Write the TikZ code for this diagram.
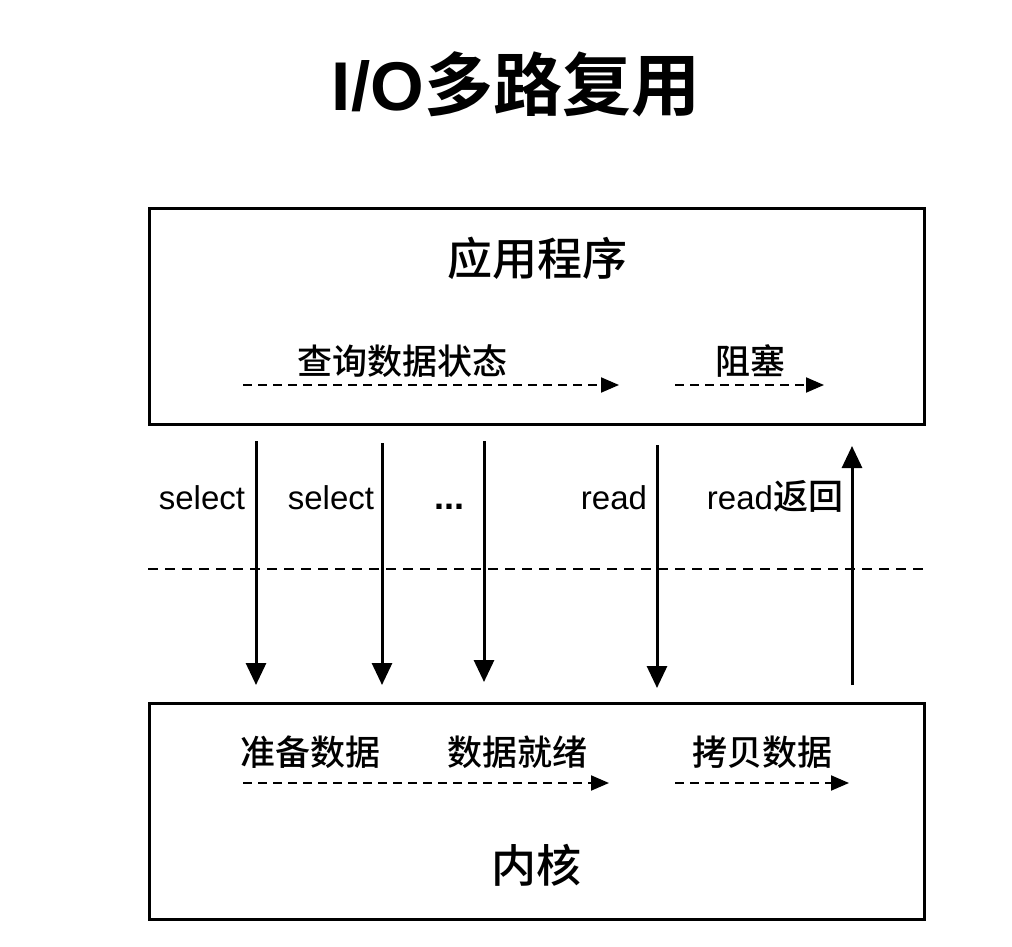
\documentclass[tikz,border=0pt]{standalone}
\usepackage{fontspec}
\setmainfont{Liberation Sans}
\newfontfamily\cjk{Noto Sans CJK SC Medium}
\newfontfamily\cjkb{Noto Sans CJK SC Bold}
\newfontfamily\lat{Liberation Sans}
\newfontfamily\latb{Liberation Sans Bold}
\usetikzlibrary{arrows.meta}
\begin{document}
\begin{tikzpicture}[x=1pt,y=-1pt,
  box/.style={draw,line width=3pt,minimum width=775pt,anchor=north west,inner sep=0pt},
  lab/.style={font=\cjk\fontsize{35}{40}\selectfont,inner sep=0pt},
  biglab/.style={font=\cjk\fontsize{45}{50}\selectfont,inner sep=0pt},
  latlab/.style={font=\lat\fontsize{33}{38}\selectfont,inner sep=0pt,anchor=base},
  flow/.style={line width=2pt,dash pattern=on 9pt off 6pt,-{Triangle[length=18pt,width=15pt]}},
  call/.style={line width=3pt,-{Triangle[length=22pt,width=20pt]}},
  divider/.style={line width=2pt,dash pattern=on 10pt off 7pt}]
\useasboundingbox (0,0) rectangle (1012,947);
\node[font=\cjkb\fontsize{69}{74}\selectfont,inner sep=0pt] (title) at (516,84) {{\latb I/O}多路复用};
\node[box,minimum height=216pt] (app) at (148,207) {};
\node[box,minimum height=216pt] (kern) at (148,702) {};
\node[biglab] (appt) at (537,258) {应用程序};
\node[biglab] (kernt) at (536,865) {内核};
\node[lab] (query) at (402,361) {查询数据状态};
\node[lab] (block) at (750,361) {阻塞};
\node[lab] (prep) at (310,752) {准备数据};
\node[lab] (ready) at (517,752) {数据就绪};
\node[lab] (copy) at (762,752) {拷贝数据};
\coordinate (q1) at (243,385); \coordinate (q2) at (619,385);
\coordinate (b1) at (675,385); \coordinate (b2) at (824,385);
\coordinate (p1) at (243,783); \coordinate (p2) at (609,783);
\coordinate (c1) at (675,783); \coordinate (c2) at (849,783);
\draw[flow] (q1) -- (q2);
\draw[flow] (b1) -- (b2);
\draw[flow] (p1) -- (p2);
\draw[flow] (c1) -- (c2);
\coordinate (d1) at (148,569); \coordinate (d2) at (923,569);
\draw[divider] (d1) -- (d2);
\coordinate (s1a) at (256,441); \coordinate (s1b) at (256,685);
\coordinate (s2a) at (382,443); \coordinate (s2b) at (382,685);
\coordinate (s3a) at (484,441); \coordinate (s3b) at (484,682);
\coordinate (r1a) at (657,445); \coordinate (r1b) at (657,688);
\coordinate (r2a) at (852,685); \coordinate (r2b) at (852,446);
\draw[call] (s1a) -- (s1b);
\draw[call] (s2a) -- (s2b);
\draw[call] (s3a) -- (s3b);
\draw[call] (r1a) -- (r1b);
\draw[call] (r2a) -- (r2b);
\node[latlab] (sel1) at (202,509) {select};
\node[latlab] (sel2) at (331,509) {select};
\node[latlab,font=\latb\fontsize{36}{40}\selectfont] (dots) at (449,509) {...};
\node[latlab] (rd) at (614,509) {read};
\node[latlab] (rdret) at (775,509) {read{\cjk\fontsize{35}{40}\selectfont 返回}};
\end{tikzpicture}
\end{document}
